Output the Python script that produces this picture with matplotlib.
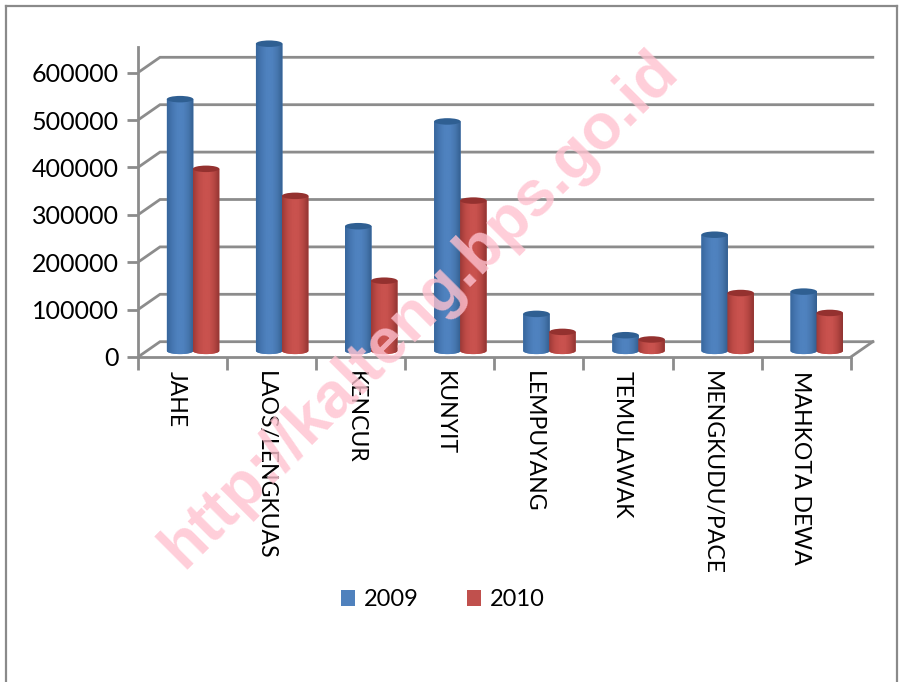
import numpy as np
import matplotlib
matplotlib.use("Agg")
import matplotlib.pyplot as plt
from matplotlib.patches import Ellipse, Patch, PathPatch
from matplotlib.path import Path
from matplotlib.colors import LinearSegmentedColormap
from matplotlib.lines import Line2D

categories = ["JAHE", "LAOS/LENGKUAS", "KENCUR", "KUNYIT", "LEMPUYANG",
              "TEMULAWAK", "MENGKUDU/PACE", "MAHKOTA DEWA"]
values_2009 = [531000, 648000, 263000, 484000, 78000, 33000, 245000, 125000]
values_2010 = [384000, 327000, 148000, 317000, 40000, 24000, 122000, 80000]
y_ticks = [0, 100000, 200000, 300000, 400000, 500000, 600000]
watermark = "http://kalteng.bps.go.id"

plt.rcParams['font.family'] = ['Lato', 'DejaVu Sans']
W, H = 903, 682
PX_X, PX_Y = 89.1, 47.4 / 100000
GRID = '#8c8c8c'

fig = plt.figure(figsize=(W / 100, H / 100), dpi=100, facecolor='white')
ax = fig.add_axes([138 / W, (H - 357) / H, 737 / W, 317 / H])
ax.set_xlim(0, 737 / PX_X)
ax.set_ylim(0, 317 / PX_Y)
ax.patch.set_visible(False)

DX, DY = 22 / PX_X, 15.3 / PX_Y
for v in y_ticks:
    ax.plot([0, DX, 8 + DX], [v, v + DY, v + DY], color=GRID, lw=2, zorder=1,
            solid_joinstyle='miter')
ax.plot([8, 8 + DX], [0, DY], color=GRID, lw=2, zorder=1)

for s in ('top', 'right'):
    ax.spines[s].set_visible(False)
for s in ('left', 'bottom'):
    ax.spines[s].set_color(GRID)
    ax.spines[s].set_linewidth(2)
    ax.spines[s].set_zorder(1)
ax.spines['left'].set_bounds(0, 654000)
ax.spines['bottom'].set_bounds(0, 8)

ax.set_yticks(y_ticks)
ax.set_yticklabels([str(v) for v in y_ticks], fontsize=18)
ax.tick_params(axis='y', length=8, width=2, color=GRID, pad=6)
ax.set_xticks(np.arange(9))
ax.set_xticklabels([])
ax.tick_params(axis='x', which='major', length=9, width=2, color=GRID)
ax.set_xticks(np.arange(8) + 0.435, minor=True)
ax.set_xticklabels(categories, minor=True, rotation=270, fontsize=16.6,
                   ha='center', va='top')
ax.tick_params(axis='x', which='minor', length=0, pad=10)


def cylinder(xc, value, cols, top):
    w = 26.5 / PX_X
    eh = 6.5 / PX_Y
    base = DY / 2 - 1.5 / PX_Y
    x0, x1 = xc - w / 2, xc + w / 2
    y0, y1 = base, base + value
    n = 40
    t = np.linspace(np.pi, 2 * np.pi, n)
    bx = xc + w / 2 * np.cos(t)
    by = y0 + eh / 2 * np.sin(t)
    verts = [(x0, y1)] + list(zip(bx, by)) + [(x1, y1), (x0, y1)]
    codes = [Path.MOVETO] + [Path.LINETO] * (len(verts) - 2) + [Path.CLOSEPOLY]
    outline = PathPatch(Path(verts, codes), fc=cols[2], ec='none', zorder=3)
    ax.add_patch(outline)
    cmap = LinearSegmentedColormap.from_list('c', cols)
    grad = np.linspace(0, 1, 64).reshape(1, -1)
    im = ax.imshow(grad, extent=(x0, x1, y0 - eh, y1), cmap=cmap, aspect='auto',
                   zorder=3.1, interpolation='bilinear')
    im.set_clip_path(outline)
    ax.add_patch(Ellipse((xc, y1), w, eh, fc=top, ec='none', zorder=3.2))


blue = ['#38679c', '#4677b2', '#4f82bf', '#4f82bf', '#4676ae', '#335f90']
red = ['#9c3a37', '#bd4a46', '#c9524e', '#c9524e', '#b54642', '#8f3432']
for i, (a, b) in enumerate(zip(values_2009, values_2010)):
    xc = i + 0.5
    cylinder(xc - 2.5 / PX_X, a, blue, '#2f5f92')
    cylinder(xc + 23.5 / PX_X, b, red, '#94312f')

ax.set_xlim(0, 737 / PX_X)
ax.set_ylim(0, 317 / PX_Y)

handles = [Patch(fc='#4f81bd', label='2009'), Patch(fc='#c0504d', label='2010')]
fig.legend(handles=handles, loc='center', bbox_to_anchor=(443 / W, 1 - 600 / H),
           ncol=2, frameon=False, fontsize=17, handlelength=0.56, handleheight=0.65,
           handletextpad=0.38, columnspacing=2.07)

fig.text(420 / W, 1 - 309 / H, watermark, color='#ffc2d0', alpha=0.8, fontsize=46,
         family=['Liberation Sans'], fontweight='bold', rotation=45,
         rotation_mode='anchor', ha='center', va='center', zorder=10)

for xs, ys in [((6, 6), (682, 6)), ((6, 897), (6, 6)), ((897, 897), (6, 682))]:
    fig.add_artist(Line2D([x / W for x in xs], [1 - y / H for y in ys],
                          color='#8a8a8a', lw=1.6))

fig.savefig('out.png', dpi=100)
